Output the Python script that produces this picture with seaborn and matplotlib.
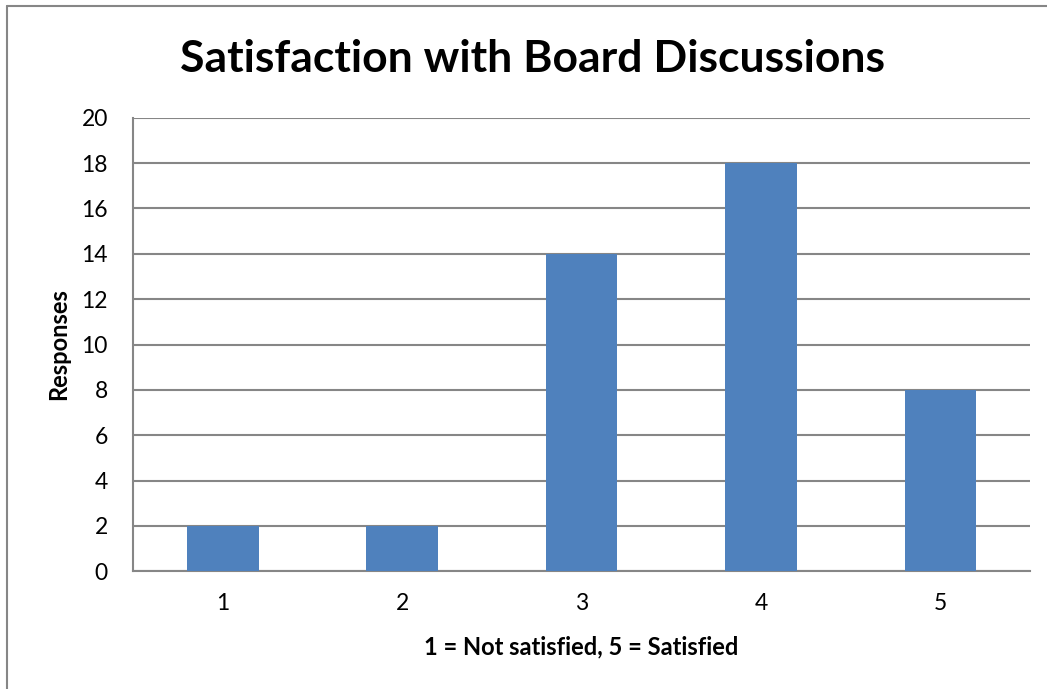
import matplotlib
matplotlib.use("Agg")
import matplotlib.pyplot as plt
import pandas as pd
import seaborn as sns
from matplotlib.lines import Line2D

# data
categories = ["1", "2", "3", "4", "5"]
responses = [2, 2, 14, 18, 8]
y_ticks = [0, 2, 4, 6, 8, 10, 12, 14, 16, 18, 20]

df = pd.DataFrame({"rating": categories, "responses": responses})

sns.set_theme(style="white")
plt.rcParams['font.family'] = ['Lato', 'DejaVu Sans']
plt.rcParams['text.color'] = 'black'
plt.rcParams['axes.labelcolor'] = 'black'

grey = "#868686"
fig = plt.figure(figsize=(10.47, 6.89), dpi=100)
ax = fig.add_axes([0.127, 0.171, 0.857, 0.658])

sns.barplot(data=df, x="rating", y="responses", color="#4F81BD",
            width=0.4, saturation=1, linewidth=0, ax=ax, zorder=3)

ax.set_ylim(0, 20)
ax.set_yticks(y_ticks)
ax.set_xlim(-0.5, 4.5)
ax.yaxis.grid(True, color=grey, linewidth=1.5)
ax.set_axisbelow(True)
for s in ["top", "right"]:
    ax.spines[s].set_visible(False)
for s in ["left", "bottom"]:
    ax.spines[s].set_color(grey)
    ax.spines[s].set_linewidth(1.5)
ax.tick_params(axis="both", length=0, labelsize=16.5, colors="black")
ax.tick_params(axis="y", pad=18)
ax.tick_params(axis="x", pad=16)

ax.set_xlabel("1 = Not satisfied, 5 = Satisfied", fontsize=17, fontweight="bold", labelpad=15)
ax.set_ylabel("Responses", fontsize=17, fontweight="bold", labelpad=8)
fig.text(0.509, 0.915, "Satisfaction with Board Discussions", ha="center", va="center",
         fontsize=32, fontweight="bold")

# chart frame (left and top edges)
fig.add_artist(Line2D([0.0067, 0.0067], [0, 0.991], transform=fig.transFigure, color=grey, linewidth=1.5))
fig.add_artist(Line2D([0.0067, 1], [0.991, 0.991], transform=fig.transFigure, color=grey, linewidth=1.5))

fig.savefig("out.png", dpi=100, facecolor="white")
